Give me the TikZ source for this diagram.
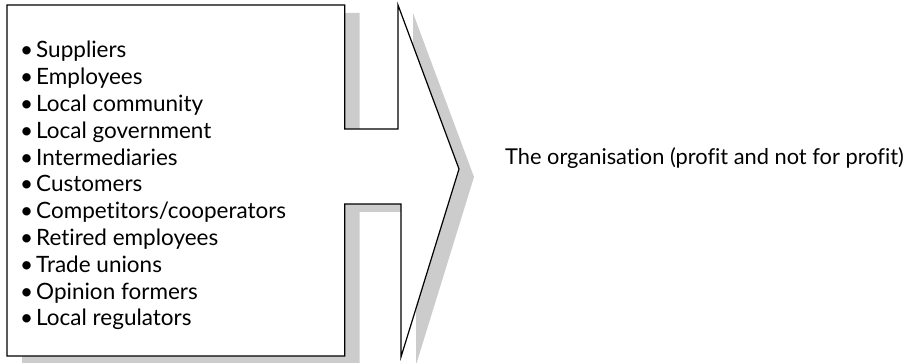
\documentclass[tikz,border=0pt]{standalone}
\usepackage{fontspec}
\setmainfont[Ligatures=NoCommon]{Lato}
\definecolor{shadowgray}{HTML}{CCCCCC}
\begin{document}
\begin{tikzpicture}[x=1pt,y=-1pt,
  outline/.style={draw=black, line width=1.2pt, fill=white, line join=miter},
  dropshadow/.style={fill=shadowgray, draw=none},
  item/.style={anchor=base west, inner sep=0pt, font=\fontsize{22.5}{27}\selectfont},
  label/.style={anchor=base west, inner sep=0pt, font=\fontsize{21.8}{27}\selectfont}]
\useasboundingbox (0,0) rectangle (921,363);
% box joined to a large arrow head by a narrow bar
\def\stakeoutline{(7,5) -- (344.7,5) -- (344.7,129) -- (398,129) -- (398,5)
  -- (459,169) -- (401,357) -- (401,204) -- (344.7,204) -- (344.7,356)
  -- (7,356) -- cycle}
\fill[dropshadow, shift={(15,8)}] \stakeoutline;
\draw[outline] \stakeoutline;
% stakeholder list
\foreach \t [count=\i] in {Suppliers, Employees, Local community,
  Local government, Intermediaries, Customers, Competitors/cooperators,
  Retired employees, Trade unions, Opinion formers, Local regulators}
  \node[item] (s\i) at (20, {58+26.8*(\i-1)}) {\makebox[16pt][l]{\textbullet}\t};
\node[label] (org) at (505,165) {The organisation (profit and not for profit)};
\end{tikzpicture}
\end{document}
